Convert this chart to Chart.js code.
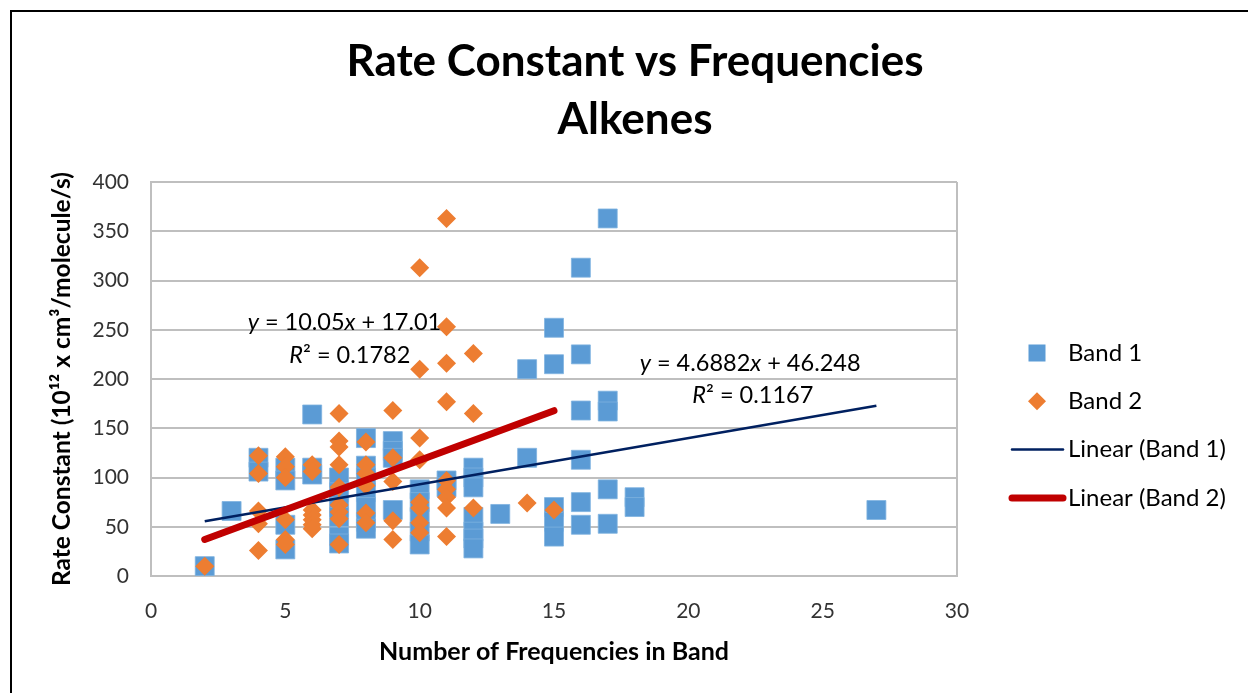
<!DOCTYPE html>
<html>
<head>
<meta charset="utf-8">
<script src="https://cdn.jsdelivr.net/npm/chart.js@4.4.0/dist/chart.umd.min.js"></script>
<style>
  html, body { margin: 0; padding: 0; background: #fff; }
  #wrap { width: 1248px; height: 693px; position: relative; }
</style>
</head>
<body>
<div id="wrap"><canvas id="myChart" width="1248" height="693"></canvas></div>
<script>
// --- Data ---
const band1X = [2, 3, 4, 4, 5, 5, 5, 5, 6, 6, 6,
  7, 7, 7, 7, 7, 7, 8, 8, 8, 8, 8, 8, 8, 9, 9, 9, 9,
  10, 10, 10, 10, 10, 11, 11, 12, 12, 12, 12, 12, 12, 12,
  13, 14, 14, 15, 15, 15, 15, 15, 16, 16, 16, 16, 16, 16,
  17, 17, 17, 17, 17, 18, 18, 27];
const band1Y = [10, 66, 120, 106, 110, 97, 52, 27, 164, 110, 103,
  100, 85, 70, 60, 40, 33, 140, 112, 100, 85, 70, 55, 48, 137, 127, 120, 67,
  88, 75, 60, 45, 32, 97, 90, 110, 100, 90, 60, 45, 38, 28,
  63, 210, 120, 252, 215, 70, 55, 40, 313, 225, 168, 118, 75, 52,
  363, 178, 167, 88, 53, 80, 70, 67];

const band2X = [2, 4, 4, 4, 4, 4, 5, 5, 5, 5, 5, 5,
  6, 6, 6, 6, 6, 6, 6, 7, 7, 7, 7, 7, 7, 7, 7, 7,
  8, 8, 8, 8, 8, 8, 9, 9, 9, 9, 9,
  10, 10, 10, 10, 10, 10, 10, 10, 11, 11, 11, 11, 11, 11, 11, 11, 11,
  12, 12, 12, 14, 15];
const band2Y = [10, 122, 104, 66, 53, 26, 121, 111, 100, 57, 37, 32,
  113, 106, 67, 62, 57, 52, 48, 165, 137, 131, 113, 90, 72, 65, 58, 32,
  136, 113, 104, 92, 64, 54, 168, 120, 96, 56, 37,
  313, 210, 140, 118, 75, 69, 54, 44, 363, 253, 216, 177, 97, 88, 80, 69, 40,
  226, 165, 69, 74, 67];

// trend line end points (Linear fits drawn by the sheet)
const trend1X = [2, 27];
const trend1Y = [55.6, 172.8];
const trend2X = [2, 15];
const trend2Y = [37.1, 167.8];

const xTicks = [0, 5, 10, 15, 20, 25, 30];
const yTicks = [0, 50, 100, 150, 200, 250, 300, 350, 400];

const titleLines = ['Rate Constant vs Frequencies', 'Alkenes'];

const toPoints = (xs, ys) => xs.map((x, i) => ({ x: x, y: ys[i] }));

const FONT = 'Lato, "Open Sans", sans-serif';
const BLUE = '#5b9bd5';
const ORANGE = '#ed7d31';
const NAVY = '#002060';
const RED = '#c00000';
const GRID = '#bfbfbf';

// --- trend line equations, anchored in data units ---
const eqLabels = [
  { x: 7.2, y: 257, parts: [['y', 1], [' = 10.05', 0], ['x', 1], [' + 17.01', 0]] },
  { x: 7.4, y: 224, parts: [['R', 1], ['\u00B2 = 0.1782', 0]] },
  { x: 22.3, y: 216, parts: [['y', 1], [' = 4.6882', 0], ['x', 1], [' + 46.248', 0]] },
  { x: 22.4, y: 183, parts: [['R', 1], ['\u00B2 = 0.1167', 0]] }
];

const equationPlugin = {
  id: 'equations',
  afterDatasetsDraw(chart) {
    const c = chart.ctx;
    const xs = chart.scales.x, ys = chart.scales.y;
    c.save();
    c.fillStyle = '#000';
    c.textBaseline = 'middle';
    c.textAlign = 'left';
    eqLabels.forEach(lab => {
      let total = 0;
      lab.parts.forEach(p => {
        c.font = (p[1] ? 'italic ' : '') + '23.5px ' + FONT;
        total += c.measureText(p[0]).width;
      });
      let px = xs.getPixelForValue(lab.x) - total / 2;
      const py = ys.getPixelForValue(lab.y);
      lab.parts.forEach(p => {
        c.font = (p[1] ? 'italic ' : '') + '23.5px ' + FONT;
        c.fillText(p[0], px, py);
        px += c.measureText(p[0]).width;
      });
    });
    c.restore();
  }
};

// --- chart title, centred on the whole frame ---
const titlePlugin = {
  id: 'bigTitle',
  afterDraw(chart) {
    const c = chart.ctx;
    c.save();
    c.font = 'bold 44px ' + FONT;
    c.fillStyle = '#000';
    c.textAlign = 'center';
    c.textBaseline = 'middle';
    titleLines.forEach((t, i) => c.fillText(t, 635, 62 + i * 58));
    c.restore();
  }
};

// --- legend drawn to match the sheet's legend ---
const legendItems = [
  { text: 'Band 1', kind: 'square', color: BLUE },
  { text: 'Band 2', kind: 'diamond', color: ORANGE },
  { text: 'Linear (Band 1)', kind: 'line', color: NAVY, width: 2.5 },
  { text: 'Linear (Band 2)', kind: 'line', color: RED, width: 7 }
];

const legendPlugin = {
  id: 'sideLegend',
  afterDraw(chart) {
    const c = chart.ctx;
    const area = chart.chartArea;
    const mx = area.right + 80;
    const tx = area.right + 111;
    const y0 = (area.top + area.bottom) / 2 - 26;
    c.save();
    c.font = '24px ' + FONT;
    c.textBaseline = 'middle';
    legendItems.forEach((it, i) => {
      const y = y0 + i * 48.3;
      c.fillStyle = it.color;
      c.strokeStyle = it.color;
      if (it.kind === 'square') {
        c.fillRect(mx - 8.5, y - 8.5, 17, 17);
      } else if (it.kind === 'diamond') {
        c.beginPath();
        c.moveTo(mx, y - 9); c.lineTo(mx + 9, y); c.lineTo(mx, y + 9); c.lineTo(mx - 9, y);
        c.closePath(); c.fill();
      } else {
        c.lineWidth = it.width;
        c.lineCap = 'round';
        c.beginPath();
        c.moveTo(mx - 25, y); c.lineTo(tx - 5, y);
        c.stroke();
      }
      c.fillStyle = '#000';
      c.fillText(it.text, tx, y);
    });
    c.restore();
  }
};

// outer chart frame (left and top edges visible)
const framePlugin = {
  id: 'frame',
  afterDraw(chart) {
    const c = chart.ctx;
    c.save();
    c.strokeStyle = '#000';
    c.lineWidth = 2;
    c.strokeRect(11, 11, chart.width + 20, chart.height + 20);
    c.restore();
  }
};

const ctx = document.getElementById('myChart').getContext('2d');
const chart = new Chart(ctx, {
  type: 'scatter',
  data: {
    datasets: [
      {
        label: 'Linear (Band 2)',
        type: 'line',
        data: toPoints(trend2X, trend2Y),
        borderColor: RED,
        borderWidth: 7,
        borderCapStyle: 'round',
        pointRadius: 0,
        fill: false,
        order: 0
      },
      {
        label: 'Linear (Band 1)',
        type: 'line',
        data: toPoints(trend1X, trend1Y),
        borderColor: NAVY,
        borderWidth: 2.5,
        pointRadius: 0,
        fill: false,
        order: 1
      },
      {
        label: 'Band 2',
        data: toPoints(band2X, band2Y),
        pointStyle: 'rectRot',
        pointRadius: 9.5,
        pointHoverRadius: 9.5,
        backgroundColor: ORANGE,
        borderColor: ORANGE,
        borderWidth: 0,
        order: 2
      },
      {
        label: 'Band 1',
        data: toPoints(band1X, band1Y),
        pointStyle: 'rect',
        pointRadius: 13.4,
        pointHoverRadius: 13.4,
        backgroundColor: BLUE,
        borderColor: '#7fb2e0',
        borderWidth: 0.8,
        order: 3
      }
    ]
  },
  options: {
    responsive: false,
    animation: false,
    devicePixelRatio: 1,
    layout: { padding: { left: 12, right: 291, top: 182, bottom: 0 } },
    plugins: {
      legend: { display: false },
      tooltip: { enabled: false },
      title: { display: false }
    },
    scales: {
      x: {
        type: 'linear',
        min: 0,
        max: 30,
        afterFit: s => { s.height = 117; },
        afterBuildTicks: s => { s.ticks = xTicks.map(v => ({ value: v })); },
        ticks: { color: '#333', font: { family: FONT, size: 21 }, padding: 23 },
        grid: {
          drawTicks: false,
          lineWidth: 2,
          color: c => (c.tick && (c.tick.value === 0 || c.tick.value === 30)) ? GRID : 'rgba(0,0,0,0)'
        },
        border: { display: true, color: GRID, width: 2 },
        title: {
          display: true,
          text: 'Number of Frequencies in Band',
          color: '#000',
          font: { family: FONT, size: 25, weight: 'bold' },
          padding: { top: 0, bottom: 26 }
        }
      },
      y: {
        type: 'linear',
        min: 0,
        max: 400,
        afterFit: s => { s.width = 139; },
        afterBuildTicks: s => { s.ticks = yTicks.map(v => ({ value: v })); },
        ticks: { color: '#333', font: { family: FONT, size: 21 }, padding: 22 },
        grid: { drawTicks: false, lineWidth: 2, color: GRID },
        border: { display: true, color: GRID, width: 2 },
        title: {
          display: true,
          text: 'Rate Constant (10\u00B9\u00B2 x cm\u00B3/molecule/s)',
          color: '#000',
          font: { family: FONT, size: 24.5, weight: 'bold' },
          padding: { top: 35, bottom: 0 }
        }
      }
    }
  },
  plugins: [equationPlugin, legendPlugin, titlePlugin, framePlugin]
});
</script>
</body>
</html>
